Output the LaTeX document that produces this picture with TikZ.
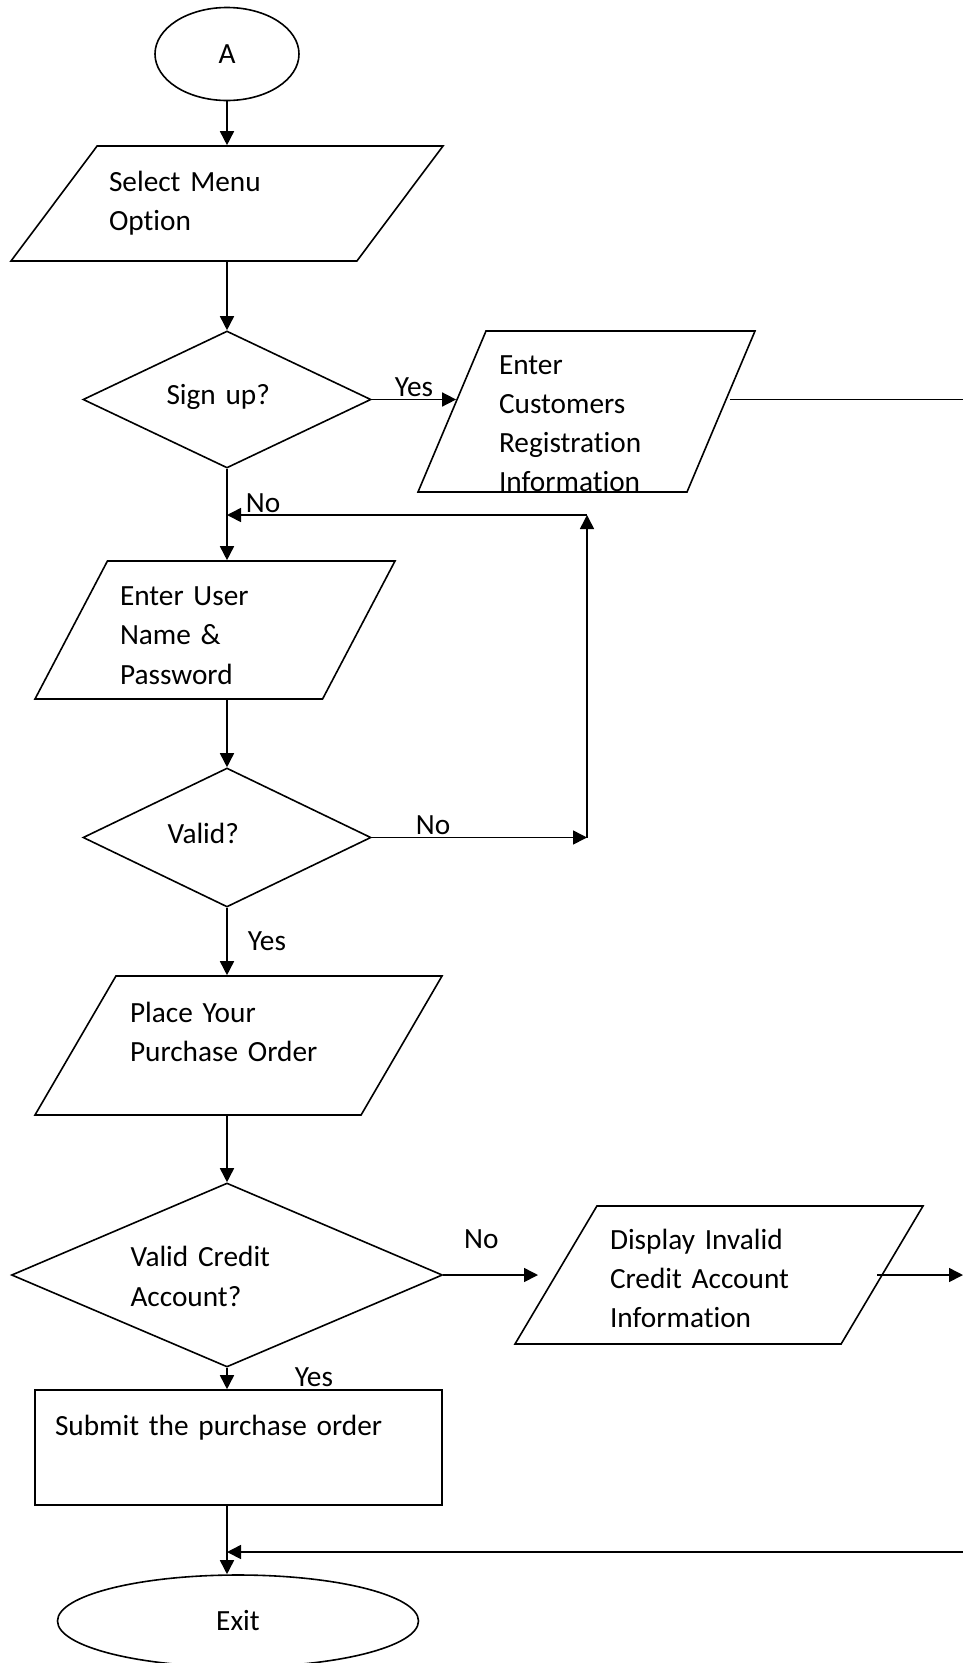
\documentclass[tikz,border=0pt]{standalone}
\usepackage{fontspec}
\setmainfont{Carlito}[Ligatures=NoCommon]
\usetikzlibrary{shapes.geometric, arrows.meta}

\begin{document}
\begin{tikzpicture}[
    x=1pt, y=-1pt,
    line width=1.6pt,
    font=\fontsize{29.3}{39.3}\selectfont,
    arr/.style={-{Triangle[length=14pt, width=14pt]}},
    lbl/.style={inner sep=2pt},
    io/.style={trapezium, draw, inner sep=0pt, trapezium stretches body, align=left},
    decision/.style={diamond, draw, inner sep=0pt, align=left, shape aspect=2.2}
  ]
  \useasboundingbox (0,0) rectangle (963,1663);

  % Start
  \node[ellipse, draw, minimum width=144pt, minimum height=93pt] (start) at (227,54) {A};
  \node[io, trapezium left angle=37.3, trapezium right angle=142.7,
        minimum width=432pt, minimum height=115pt, text width=236pt,
        text height=20.3pt, text depth=45.3pt] (sel) at (227,203.5) {Select Menu\\Option};

  % Sign up
  \node[decision, minimum width=288pt, minimum height=137pt, text width=121pt,
        text height=20pt, text depth=11pt] (sign) at (227,399.5) {Sign up?};
  \node[io, trapezium left angle=67.1, trapezium right angle=112.9,
        minimum width=337pt, minimum height=161pt, text width=175pt,
        text height=43pt, text depth=118pt] (cust) at (586.5,411.5) {Enter\\Customers\\Registration\\Information};

  % Login
  \node[io, trapezium left angle=56.2, trapezium right angle=123.8,
        minimum width=360pt, minimum height=138pt, text width=190pt,
        text height=29.6pt, text depth=78.6pt] (user) at (215,630) {Enter User\\Name \&\\Password};
  \node[decision, minimum width=288pt, minimum height=139pt, text width=119pt,
        text height=20pt, text depth=9pt] (valid) at (227,837.5) {Valid?};

  % Order
  \node[io, trapezium left angle=47.4, trapezium right angle=132.6,
        minimum width=407pt, minimum height=139pt, text width=217pt,
        text height=20.5pt, text depth=67.5pt] (place) at (238.5,1045.5) {Place Your\\Purchase Order};
  \node[decision, minimum width=431pt, minimum height=184pt, text width=193pt,
        text height=23.3pt] (credit) at (227,1275) {Valid Credit\\Account?};
  \node[io, trapezium left angle=52.1, trapezium right angle=127.9,
        minimum width=408pt, minimum height=138pt, text width=218pt,
        text height=26.6pt, text depth=78.6pt] (disp) at (719,1275) {Display Invalid\\Credit Account\\Information};
  \node[rectangle, draw, inner sep=0pt, minimum width=407pt, minimum height=115pt,
        text width=367pt, align=left, text height=20.5pt, text depth=45.5pt]
        (submit) at (238.5,1447.5) {Submit the purchase order};
  \node[ellipse, draw, minimum width=361pt, minimum height=92pt] (exit) at (238,1621) {Exit};

  % Off-page ends and loop corners
  \coordinate (edgeA) at (963,399.5);
  \coordinate (edgeB) at (963,1275);
  \coordinate (edgeC) at (963,1552);
  \coordinate (loopT) at (587,515);
  \coordinate (loopB) at (loopT |- valid.east);

  % Connections
  \draw[arr] (start) -- (start |- sel.north);
  \draw[arr] (sign |- sel.south) -- (sign.north);
  \draw[arr] (sign.east) -- node[lbl, above] {Yes} ([xshift=5pt]sign.east -| cust.west);
  \draw ([xshift=8pt]cust.east |- sign.east) -- (edgeA);
  \draw[arr] (sign) -- (sign |- user.north);
  \draw[arr] (valid |- user.south) -- (valid.north);
  \draw[arr] (valid.east) -- node[lbl, pos=0.285, above] {No} (loopB);
  \draw[arr] (loopB) -- (loopT);
  \draw[arr] (loopT) -- node[lbl, pos=0.9, above] {No} (loopT -| sign);
  \draw[arr] (valid) -- node[lbl, right=18pt] {Yes} (valid |- place.north);
  \draw[arr] (credit |- place.south) -- (credit.north);
  \draw[arr, shorten >=17pt] (credit.east) -- node[lbl, pos=0.34, above=24pt] {No} (credit.east -| disp.west);
  \draw[arr] ([xshift=-6pt]disp.east) -- (edgeB);
  \draw[arr] (credit) -- node[lbl, at end, anchor=south west, xshift=65pt] {Yes} (credit |- submit.north);
  \draw[arr] (credit |- submit.south) -- (credit |- exit.north);
  \draw[arr] (edgeC) -- (edgeC -| credit);
\end{tikzpicture}
\end{document}
